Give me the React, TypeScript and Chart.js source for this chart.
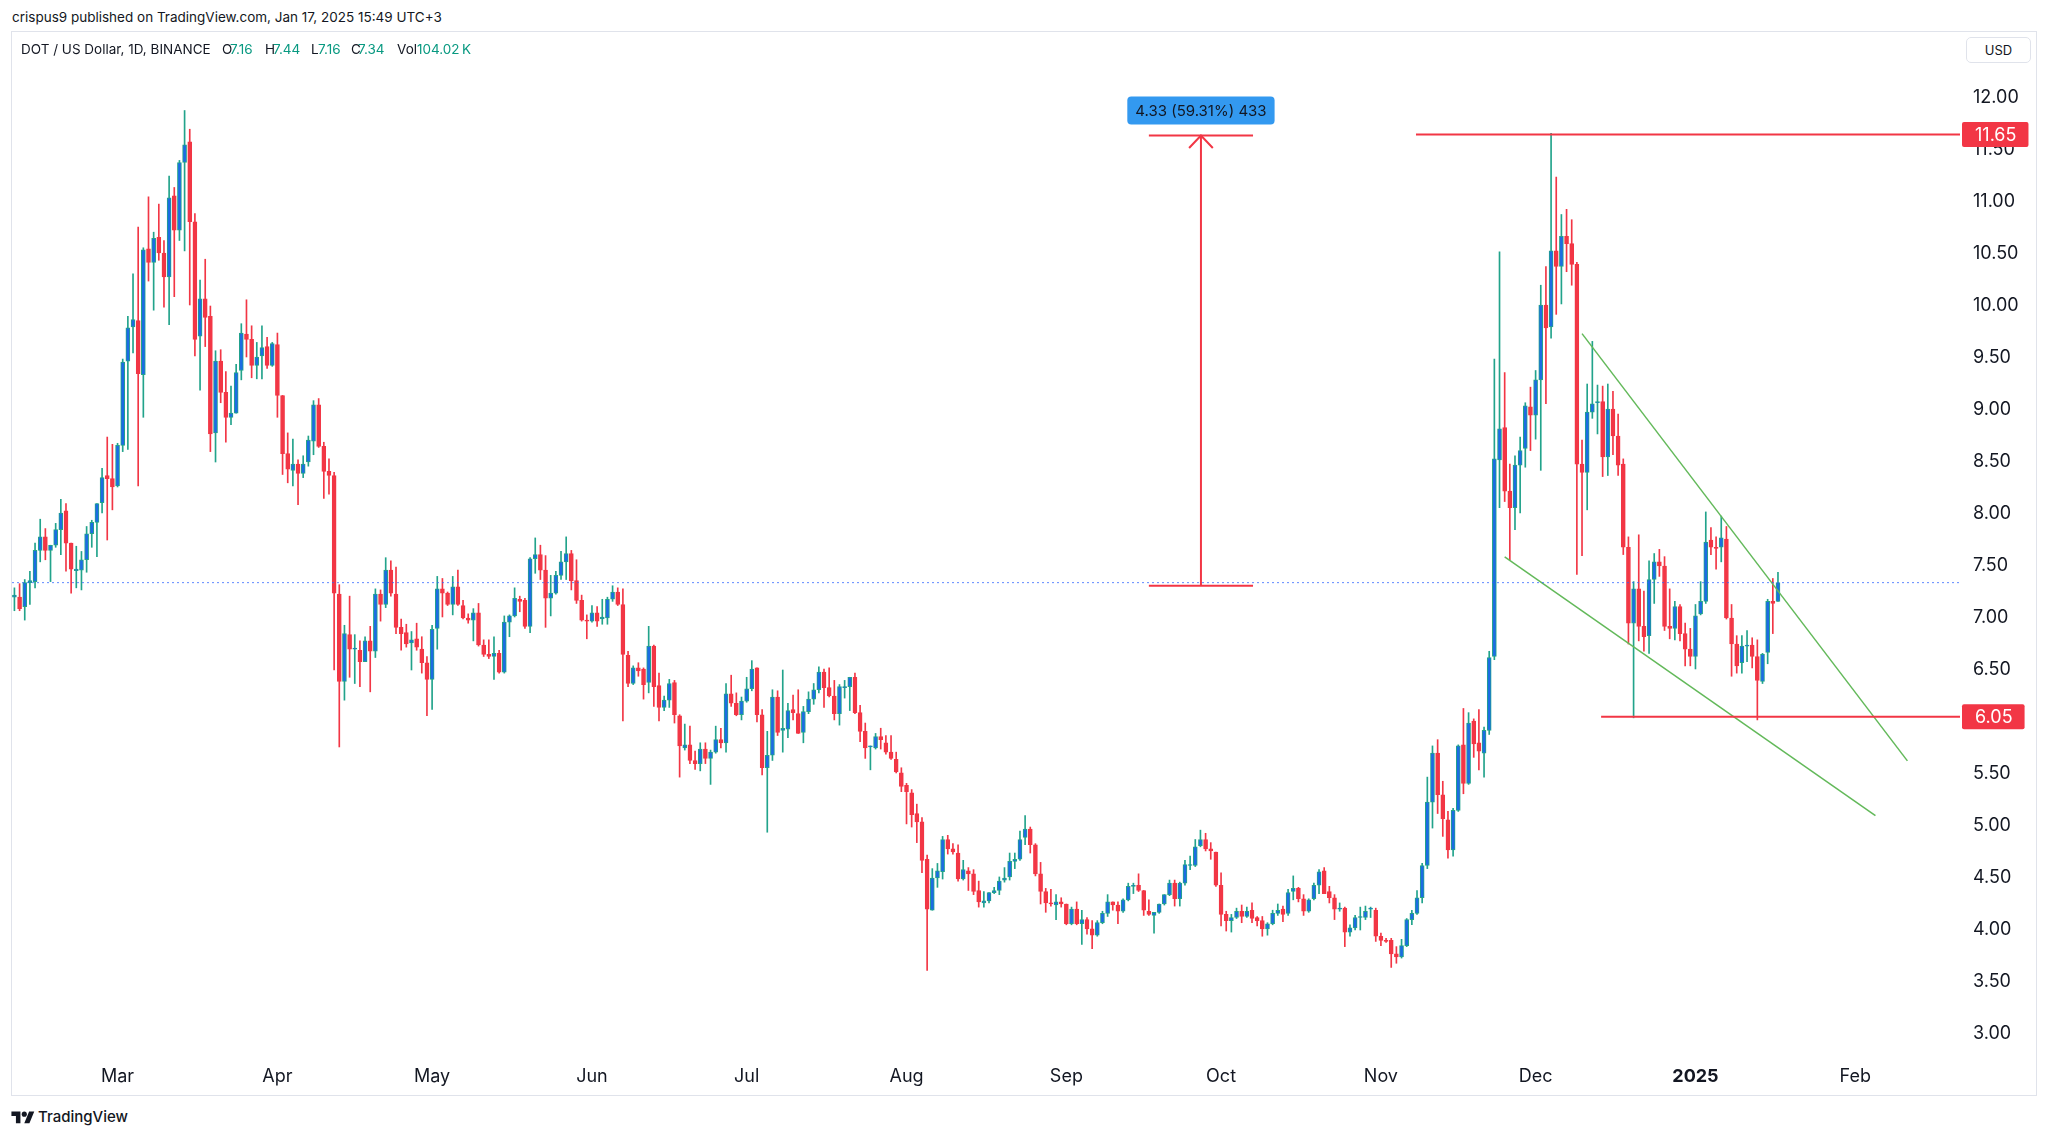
import React, { useEffect, useRef } from "react";
import { Chart, registerables } from "chart.js";

Chart.register(...registerables);

// ---- data: daily DOT/USD candles, first candle = 2024-02-10 (index 0) ----
const FIRST_DATE = Date.UTC(2024, 1, 10);

const OPEN = [
  7.20,7.20,7.11,7.34,7.35,7.65,7.78,7.65,7.70,7.85,8.03,7.72,7.455,7.46,7.56,7.81,7.92,8.11,8.37,8.34,
  8.27,8.66,9.47,9.80,9.86,9.34,10.55,10.42,10.66,10.51,10.28,11.06,10.73,11.38,11.58,10.81,9.71,10.07,9.90,8.78,9.47,9.17,8.93,8.97,9.38,9.73,9.68,9.43,9.52,9.61,9.43,
  9.63,9.14,8.58,8.42,8.48,8.39,8.50,8.70,9.05,8.65,8.41,8.37,7.23,6.39,6.84,6.70,6.69,6.58,6.78,6.68,7.23,7.13,7.46,7.23,6.91,6.86,6.76,6.80,6.70,6.57,
  6.41,6.90,7.28,7.24,7.13,7.30,7.12,7.00,6.98,7.05,6.74,6.65,6.63,6.66,6.48,6.96,7.02,7.18,7.17,6.92,7.57,7.61,7.46,7.19,7.24,7.41,7.54,7.62,7.36,7.17,6.98,
  6.97,7.05,6.99,7.00,7.18,7.25,7.13,6.64,6.37,6.52,6.51,6.38,6.73,6.35,6.14,6.21,6.38,6.06,5.75,5.78,5.63,5.60,5.74,5.65,5.71,5.83,5.80,6.27,6.18,6.07,
  6.20,6.32,6.52,6.07,5.56,5.68,6.24,5.92,5.93,6.12,6.08,5.90,6.10,6.22,6.31,6.48,6.33,6.25,6.08,6.33,6.34,6.43,6.09,5.91,5.76,5.75,5.86,5.80,5.71,5.64,5.51,
  5.39,5.32,5.12,5.04,4.68,4.19,4.50,4.56,4.87,4.78,4.74,4.49,4.57,4.54,4.38,4.26,4.28,4.36,4.38,4.48,4.51,4.66,4.68,4.89,4.97,4.82,4.54,4.37,4.26,4.24,4.27,
  4.25,4.06,4.20,4.06,4.10,4.01,3.95,4.07,4.16,4.27,4.24,4.18,4.29,4.42,4.43,4.38,4.18,4.14,4.17,4.25,4.34,4.45,4.30,4.45,4.62,4.62,4.81,4.87,4.78,4.75,
  4.43,4.15,4.09,4.12,4.18,4.13,4.19,4.12,4.09,4.01,4.06,4.16,4.20,4.16,4.37,4.40,4.30,4.18,4.30,4.43,4.57,4.37,4.31,4.20,4.21,3.98,4.02,4.12,4.12,4.20,4.19,
  3.94,3.90,3.90,3.77,3.74,3.85,4.10,4.16,4.31,4.62,5.23,5.70,5.30,5.06,4.77,5.15,5.78,5.41,6.01,5.80,5.70,5.92,6.63,8.52,8.83,8.22,8.06,8.47,8.63,9.03,
  8.95,9.29,10.01,9.80,10.53,10.38,10.67,10.60,10.40,8.48,8.40,8.98,9.07,9.08,8.55,9.01,8.75,8.48,7.68,6.95,7.28,6.92,6.83,7.37,7.54,7.50,6.92,6.90,7.11,6.85,6.70,
  6.63,7.04,7.16,7.75,7.68,7.68,7.76,7.00,6.75,6.57,6.73,6.74,6.63,6.39,6.67,7.16,7.16,
];
const HIGH = [
  7.29,7.33,7.37,7.45,7.72,7.95,7.86,7.70,7.91,8.14,8.10,7.72,7.69,7.64,7.88,7.94,8.10,8.44,8.74,8.67,
  8.68,9.49,9.90,10.31,10.76,10.56,11.05,10.71,10.98,10.63,11.25,11.14,11.40,11.88,11.70,10.89,10.25,10.45,10.00,9.57,9.58,9.37,9.23,9.44,9.83,10.06,9.81,9.65,9.81,9.70,9.65,
  9.74,9.14,8.78,8.72,8.52,8.56,8.75,9.09,9.11,8.69,8.53,8.40,7.32,6.93,7.21,6.84,6.78,6.82,6.92,7.28,7.27,7.58,7.55,7.49,6.99,6.94,6.87,6.95,6.82,6.63,
  6.93,7.40,7.38,7.25,7.40,7.46,7.17,7.04,7.09,7.14,6.79,6.79,6.82,6.69,7.02,7.03,7.29,7.21,7.19,7.58,7.77,7.70,7.60,7.41,7.45,7.64,7.78,7.65,7.56,7.22,7.03,
  7.12,7.11,7.18,7.20,7.31,7.29,7.28,6.68,6.54,6.57,6.52,6.92,6.74,6.47,6.25,6.41,6.40,6.07,5.98,5.96,5.72,5.80,5.80,5.73,5.96,5.94,6.37,6.45,6.28,6.24,
  6.43,6.59,6.52,6.12,5.91,6.31,6.30,6.50,6.18,6.26,6.31,6.15,6.29,6.37,6.53,6.51,6.52,6.40,6.36,6.40,6.43,6.47,6.16,5.99,5.77,5.89,5.94,5.87,5.87,5.71,5.56,
  5.41,5.35,5.21,5.08,4.72,4.59,4.64,4.90,4.91,4.83,4.82,4.67,4.60,4.58,4.47,4.37,4.36,4.41,4.51,4.60,4.74,4.74,4.95,5.10,4.99,4.83,4.65,4.40,4.39,4.34,4.31,
  4.25,4.22,4.27,4.19,4.12,4.09,4.09,4.18,4.34,4.27,4.27,4.30,4.45,4.45,4.54,4.38,4.29,4.17,4.25,4.34,4.48,4.48,4.46,4.67,4.71,4.87,4.96,4.93,4.84,4.75,
  4.55,4.18,4.15,4.21,4.24,4.22,4.26,4.13,4.13,4.07,4.19,4.25,4.23,4.39,4.52,4.41,4.34,4.30,4.45,4.58,4.60,4.42,4.34,4.26,4.22,4.05,4.14,4.22,4.23,4.22,4.21,
  3.97,3.92,3.92,3.84,3.91,4.11,4.19,4.38,4.64,5.47,5.77,5.83,5.43,5.14,5.17,5.78,6.13,6.09,6.03,6.12,5.95,6.68,9.49,10.52,9.36,8.48,8.56,8.74,9.07,9.22,
  9.38,10.20,10.38,11.66,11.24,10.88,10.93,10.83,10.42,8.71,9.25,9.66,9.24,9.23,9.25,9.18,8.96,8.53,7.78,7.35,7.80,7.26,7.55,7.62,7.66,7.59,7.28,7.16,7.13,6.95,6.90,
  7.13,7.35,8.02,7.87,7.78,7.98,7.88,7.13,6.83,6.83,6.88,6.81,6.79,6.66,7.18,7.38,7.44,
];
const LOW = [
  7.07,7.07,6.98,7.13,7.29,7.54,7.56,7.35,7.68,7.61,7.45,7.24,7.29,7.27,7.44,7.68,7.59,8.01,7.75,8.04,
  8.26,8.60,8.62,9.55,8.27,8.93,10.24,9.96,10.44,9.99,9.82,10.09,10.63,10.53,10.01,9.52,9.19,9.61,8.60,8.50,9.07,8.69,8.86,8.97,9.29,9.51,9.31,9.30,9.30,9.40,9.42,
  8.93,8.38,8.30,8.27,8.09,8.35,8.46,8.57,8.64,8.15,8.19,6.50,5.76,6.21,6.43,6.37,6.34,6.58,6.29,6.62,6.97,7.10,7.21,6.85,6.69,6.72,6.50,6.69,6.47,6.06,
  6.12,6.70,7.01,7.12,7.03,7.12,6.99,6.95,6.78,6.73,6.63,6.61,6.41,6.47,6.47,6.82,7.01,7.06,6.90,6.86,7.43,7.37,6.91,7.02,7.23,7.37,7.37,7.27,7.14,6.97,6.80,
  6.96,6.92,6.94,6.94,7.16,7.12,6.01,6.34,6.36,6.44,6.22,6.28,6.15,6.01,6.11,6.14,5.99,5.47,5.73,5.60,5.545,5.53,5.60,5.40,5.70,5.75,5.71,6.15,6.06,6.02,
  6.19,6.30,6.00,5.49,4.94,5.63,5.87,5.71,5.85,6.02,5.89,5.80,6.08,6.17,6.28,6.14,6.24,6.02,5.97,6.23,6.11,6.08,5.81,5.65,5.54,5.74,5.74,5.69,5.64,5.51,5.33,
  5.02,4.99,4.84,4.55,3.61,4.19,4.41,4.49,4.73,4.73,4.47,4.48,4.38,4.34,4.22,4.22,4.26,4.35,4.34,4.46,4.48,4.59,4.67,4.82,4.74,4.52,4.25,4.17,4.23,4.10,4.22,
  4.05,4.05,4.05,3.86,3.96,3.82,3.94,4.06,4.13,4.19,4.06,4.17,4.28,4.35,4.37,4.14,4.14,3.97,4.16,4.24,4.33,4.23,4.23,4.43,4.58,4.61,4.80,4.76,4.68,4.42,
  4.04,3.99,3.98,4.11,4.07,4.12,4.07,4.04,3.94,3.95,4.05,4.14,4.08,4.14,4.29,4.27,4.14,4.17,4.29,4.35,4.35,4.26,4.10,4.18,3.84,3.94,4.00,4.00,4.10,4.12,3.89,
  3.85,3.88,3.64,3.68,3.73,3.84,4.05,4.15,4.26,4.59,4.98,5.12,4.90,4.69,4.71,5.14,5.31,5.40,5.66,5.54,5.47,5.88,6.60,8.06,8.12,7.56,7.85,8.01,8.45,8.61,
  8.72,8.42,9.06,9.69,9.92,10.02,10.33,10.20,7.42,7.60,8.04,8.92,8.77,8.36,8.37,8.57,8.37,7.61,6.75,6.04,6.78,6.68,6.66,7.14,7.40,6.88,6.80,6.79,6.78,6.54,6.54,
  6.51,7.03,7.14,7.61,7.47,7.54,6.99,6.44,6.47,6.47,6.58,6.52,6.02,6.37,6.56,6.85,7.16,
];
const CLOSE = [
  7.22,7.09,7.34,7.36,7.65,7.78,7.65,7.70,7.85,8.01,7.72,7.47,7.47,7.56,7.81,7.92,8.10,8.35,8.34,8.26,
  8.66,9.46,9.79,9.87,9.35,10.54,10.42,10.65,10.51,10.28,11.04,10.73,11.38,11.55,10.81,9.68,10.07,9.89,8.77,9.47,9.17,8.93,8.97,9.36,9.74,9.68,9.43,9.51,9.60,9.43,9.64,
  9.14,8.58,8.43,8.48,8.39,8.48,8.71,9.05,8.65,8.41,8.37,7.24,6.39,6.85,6.70,6.71,6.58,6.78,6.68,7.23,7.13,7.46,7.24,6.91,6.85,6.75,6.79,6.72,6.57,6.41,
  6.89,7.28,7.24,7.13,7.30,7.13,7.00,6.98,7.05,6.74,6.65,6.63,6.66,6.48,6.96,7.02,7.19,7.16,6.92,7.57,7.61,7.46,7.19,7.24,7.41,7.54,7.62,7.36,7.17,6.98,6.97,
  7.05,6.97,7.01,7.18,7.25,7.13,6.65,6.37,6.52,6.49,6.36,6.73,6.34,6.14,6.21,6.37,6.07,5.77,5.78,5.63,5.60,5.74,5.65,5.71,5.83,5.80,6.27,6.18,6.07,6.20,
  6.32,6.51,6.07,5.56,5.68,6.24,5.90,5.94,6.11,6.09,5.89,6.10,6.22,6.31,6.48,6.33,6.25,6.08,6.34,6.34,6.43,6.09,5.91,5.75,5.77,5.86,5.83,5.71,5.65,5.52,5.38,
  5.33,5.11,5.04,4.67,4.20,4.50,4.57,4.87,4.78,4.75,4.49,4.58,4.54,4.37,4.27,4.28,4.36,4.38,4.47,4.50,4.66,4.68,4.87,4.97,4.82,4.54,4.37,4.26,4.25,4.27,4.25,
  4.06,4.20,4.06,4.10,4.01,3.95,4.07,4.16,4.27,4.24,4.18,4.29,4.42,4.43,4.38,4.19,4.15,4.17,4.25,4.34,4.45,4.30,4.45,4.63,4.63,4.80,4.87,4.78,4.76,4.43,
  4.15,4.09,4.12,4.18,4.13,4.18,4.11,4.09,4.01,4.06,4.16,4.19,4.15,4.36,4.40,4.30,4.18,4.29,4.43,4.56,4.35,4.31,4.20,4.21,3.98,4.02,4.12,4.13,4.18,4.21,3.94,
  3.90,3.89,3.77,3.74,3.85,4.10,4.16,4.31,4.62,5.23,5.70,5.30,5.07,4.77,5.15,5.77,5.41,5.99,5.79,5.72,5.92,6.62,8.53,8.82,8.22,8.06,8.47,8.61,9.04,8.95,
  9.29,10.01,9.79,10.53,10.38,10.67,10.60,10.40,8.48,8.40,8.98,9.06,9.08,8.55,9.01,8.75,8.47,7.68,6.95,7.28,6.92,6.82,7.37,7.54,7.50,6.92,6.90,7.11,6.85,6.70,6.63,
  7.02,7.16,7.73,7.68,7.67,7.77,7.00,6.75,6.54,6.73,6.74,6.63,6.40,6.65,7.16,7.14,7.34,
];

// axis ticks
const MONTH_LABELS = ["Mar", "Apr", "May", "Jun", "Jul", "Aug", "Sep", "Oct", "Nov", "Dec", "2025", "Feb"];
const MONTH_STARTS = [[2024, 3], [2024, 4], [2024, 5], [2024, 6], [2024, 7], [2024, 8], [2024, 9], [2024, 10], [2024, 11], [2024, 12], [2025, 1], [2025, 2]];
const PRICE_TICKS = [3, 3.5, 4, 4.5, 5, 5.5, 6, 6.5, 7, 7.5, 8, 8.5, 9, 9.5, 10, 10.5, 11, 11.5, 12];
const X_RANGE = [-0.47, 377.3];
const Y_RANGE = [2.769, 12.635];

// drawings
const LAST_PRICE = 7.34;
const RED_LEVELS = [11.65, 6.05];
const RED_LEVEL_FROM = [271.8, 307.7];
const UPPER_TREND_X = [304.0, 367.1];
const UPPER_TREND_Y = [9.735, 5.626];
const LOWER_TREND_X = [289.0, 360.9];
const LOWER_TREND_Y = [7.588, 5.10];
const MEASURE_X = 230.1;
const MEASURE_FROM = 7.31;
const MEASURE_TO = 11.64;
const MEASURE_CAP = 10.1;
const MEASURE_LABEL = "4.33 (59.31%) 433";

const FONT = "Inter, 'Noto Sans', sans-serif";
const TEXT = "#131722";
const UP_BODY = "#1C6CE3";
const UP_EDGE = "#22A38B";
const DOWN = "#F23645";
const GREEN_LINE = "#63B95A";

const dayOf = (y: number, m: number) => Math.round((Date.UTC(y, m - 1, 1) - FIRST_DATE) / 86400000);
const MONTH_IDX = MONTH_STARTS.map(([y, m]) => dayOf(y, m));

const lineDs = (pts: { x: number; y: number }[], color: string, width: number, dash: number[] = []) => ({
  type: "line" as const,
  data: pts,
  borderColor: color,
  borderWidth: width,
  borderDash: dash,
  pointRadius: 0,
  fill: false,
  tension: 0,
  order: 0,
});

const overlayPlugin = {
  id: "overlay",
  afterDraw(chart: any) {
    const { ctx, chartArea, scales } = chart;
    const xs = scales.x;
    const ys = scales.y;
    ctx.save();
    ctx.textBaseline = "middle";
    ctx.textAlign = "left";
    ctx.font = `18px ${FONT}`;
    RED_LEVELS.forEach((v) => {
      const y = ys.getPixelForValue(v);
      const text = v.toFixed(2);
      const w = ctx.measureText(text).width;
      const x0 = chartArea.right + 2;
      ctx.fillStyle = DOWN;
      ctx.beginPath();
      ctx.roundRect(x0, y - 12.5, 13 + w + 12, 25, 2);
      ctx.fill();
      ctx.fillStyle = "#ffffff";
      ctx.fillText(text, x0 + 13, y + 1);
    });
    const mx = xs.getPixelForValue(MEASURE_X);
    const my = ys.getPixelForValue(MEASURE_TO) - 25;
    ctx.font = `15px ${FONT}`;
    const tw = ctx.measureText(MEASURE_LABEL).width;
    const bw = tw + 16;
    const bh = 28;
    ctx.fillStyle = "#3399F0";
    ctx.beginPath();
    ctx.roundRect(mx - bw / 2, my - bh / 2, bw, bh, 4);
    ctx.fill();
    ctx.fillStyle = TEXT;
    ctx.textAlign = "center";
    ctx.fillText(MEASURE_LABEL, mx, my + 1);
    ctx.restore();
  },
};

export default function App() {
  const ref = useRef<HTMLCanvasElement>(null);

  useEffect(() => {
    const up = CLOSE.map((c, i) => c >= OPEN[i]);
    const bodies = OPEN.map((o, i) => ({ x: i, y: [o, CLOSE[i]] }));
    const wicks = OPEN.map((_, i) => ({ x: i, y: [LOW[i], HIGH[i]] }));

    const chart = new Chart(ref.current as HTMLCanvasElement, {
      type: "bar",
      data: {
        datasets: [
          lineDs([{ x: X_RANGE[0], y: LAST_PRICE }, { x: X_RANGE[1], y: LAST_PRICE }], "rgba(41,98,255,0.75)", 1, [2, 3]),
          lineDs([{ x: RED_LEVEL_FROM[0], y: RED_LEVELS[0] }, { x: X_RANGE[1], y: RED_LEVELS[0] }], DOWN, 2),
          lineDs([{ x: RED_LEVEL_FROM[1], y: RED_LEVELS[1] }, { x: X_RANGE[1], y: RED_LEVELS[1] }], DOWN, 2),
          lineDs([{ x: UPPER_TREND_X[0], y: UPPER_TREND_Y[0] }, { x: UPPER_TREND_X[1], y: UPPER_TREND_Y[1] }], GREEN_LINE, 1.5),
          lineDs([{ x: LOWER_TREND_X[0], y: LOWER_TREND_Y[0] }, { x: LOWER_TREND_X[1], y: LOWER_TREND_Y[1] }], GREEN_LINE, 1.5),
          lineDs([{ x: MEASURE_X, y: MEASURE_FROM }, { x: MEASURE_X, y: MEASURE_TO }], DOWN, 2),
          lineDs([{ x: MEASURE_X - MEASURE_CAP, y: MEASURE_FROM }, { x: MEASURE_X + MEASURE_CAP, y: MEASURE_FROM }], DOWN, 2),
          lineDs([{ x: MEASURE_X - MEASURE_CAP, y: MEASURE_TO }, { x: MEASURE_X + MEASURE_CAP, y: MEASURE_TO }], DOWN, 2),
          lineDs([
            { x: MEASURE_X - 2.3, y: MEASURE_TO - 0.12 },
            { x: MEASURE_X, y: MEASURE_TO },
            { x: MEASURE_X + 2.3, y: MEASURE_TO - 0.12 },
          ], DOWN, 2),
          {
            type: "bar",
            data: bodies,
            backgroundColor: up.map((u) => (u ? UP_BODY : DOWN)),
            borderColor: up.map((u) => (u ? UP_EDGE : DOWN)),
            borderWidth: 1,
            borderSkipped: false,
            barThickness: 4,
            minBarLength: 1,
            grouped: false,
            order: 1,
          },
          {
            type: "bar",
            data: wicks,
            backgroundColor: up.map((u) => (u ? UP_EDGE : DOWN)),
            borderWidth: 0,
            barThickness: 1,
            grouped: false,
            order: 2,
          },
        ] as any,
      },
      options: {
        responsive: false,
        animation: false,
        events: [],
        layout: { padding: { left: 1, top: 1, right: 0, bottom: 0 } },
        plugins: { legend: { display: false }, tooltip: { enabled: false } },
        scales: {
          x: {
            type: "linear",
            min: X_RANGE[0],
            max: X_RANGE[1],
            offset: false,
            grid: { display: false, drawTicks: false },
            border: { display: false },
            afterBuildTicks: (s: any) => {
              s.ticks = MONTH_IDX.map((v) => ({ value: v }));
            },
            afterFit: (s: any) => {
              s.height = 38;
              s.paddingLeft = 0;
              s.paddingRight = 0;
            },
            ticks: {
              autoSkip: false,
              maxRotation: 0,
              padding: 8,
              color: TEXT,
              font: (c: any) => ({
                family: FONT,
                size: 18,
                weight: c.tick && MONTH_LABELS[MONTH_IDX.indexOf(c.tick.value)] === "2025" ? "bold" : "normal",
              }),
              callback: (v: any) => {
                const k = MONTH_IDX.indexOf(Number(v));
                return k >= 0 ? MONTH_LABELS[k] : "";
              },
            },
          },
          y: {
            type: "linear",
            position: "right",
            min: Y_RANGE[0],
            max: Y_RANGE[1],
            grid: { display: false, drawTicks: false },
            border: { display: false },
            afterBuildTicks: (s: any) => {
              s.ticks = PRICE_TICKS.map((v) => ({ value: v }));
            },
            afterFit: (s: any) => {
              s.width = 77;
              s.paddingTop = 0;
              s.paddingBottom = 0;
            },
            ticks: {
              autoSkip: false,
              padding: 13,
              color: TEXT,
              font: { family: FONT, size: 18 },
              callback: (v: any) => Number(v).toFixed(2),
            },
          },
        },
      } as any,
      plugins: [overlayPlugin],
    });
    return () => chart.destroy();
  }, []);

  const hdr: React.CSSProperties = { position: "absolute", top: 40, fontSize: 13.5, lineHeight: "18px", whiteSpace: "nowrap" };
  const val: React.CSSProperties = { ...hdr, color: "#089981" };

  return (
    <div style={{ position: "fixed", left: 0, top: 0, width: 2048, height: 1136, background: "#ffffff", fontFamily: FONT, color: TEXT, overflow: "hidden" }}>
      <div style={{ position: "absolute", left: 12, top: 8, fontSize: 13.5, lineHeight: "18px", whiteSpace: "nowrap" }}>
        crispus9 published on TradingView.com, Jan 17, 2025 15:49 UTC+3
      </div>
      <canvas ref={ref} width={2026} height={1065} style={{ position: "absolute", left: 11, top: 31, width: 2026, height: 1065 }} />
      <div style={{ position: "absolute", left: 11, top: 31, width: 2026, height: 1065, border: "1px solid #E0E3EB", boxSizing: "border-box", pointerEvents: "none" }} />
      <div style={{ ...hdr, left: 21 }}>DOT / US Dollar, 1D, BINANCE</div>
      <div style={{ ...hdr, left: 222 }}>O</div>
      <div style={{ ...val, left: 230 }}>7.16</div>
      <div style={{ ...hdr, left: 265 }}>H</div>
      <div style={{ ...val, left: 273 }}>7.44</div>
      <div style={{ ...hdr, left: 311 }}>L</div>
      <div style={{ ...val, left: 318 }}>7.16</div>
      <div style={{ ...hdr, left: 351 }}>C</div>
      <div style={{ ...val, left: 358 }}>7.34</div>
      <div style={{ ...hdr, left: 397 }}>Vol</div>
      <div style={{ ...val, left: 417 }}>104.02</div>
      <div style={{ ...val, left: 462 }}>K</div>
      <div style={{ position: "absolute", left: 1966, top: 37, width: 65, height: 26, border: "1px solid #E0E3EB", borderRadius: 5, boxSizing: "border-box", fontSize: 13, lineHeight: "24px", textAlign: "center", background: "#fff" }}>
        USD
      </div>
      <svg style={{ position: "absolute", left: 11, top: 1109 }} width="24" height="18" viewBox="0 0 36 28">
        <path d="M14 22H7V11H0V4h14v18zM28 22h-8l7.5-18h8L28 22z" fill="#131722" />
        <circle cx="20" cy="8" r="4" fill="#131722" />
      </svg>
      <div style={{ position: "absolute", left: 38, top: 1107, fontSize: 15, lineHeight: "20px", fontWeight: 500, whiteSpace: "nowrap" }}>TradingView</div>
    </div>
  );
}
